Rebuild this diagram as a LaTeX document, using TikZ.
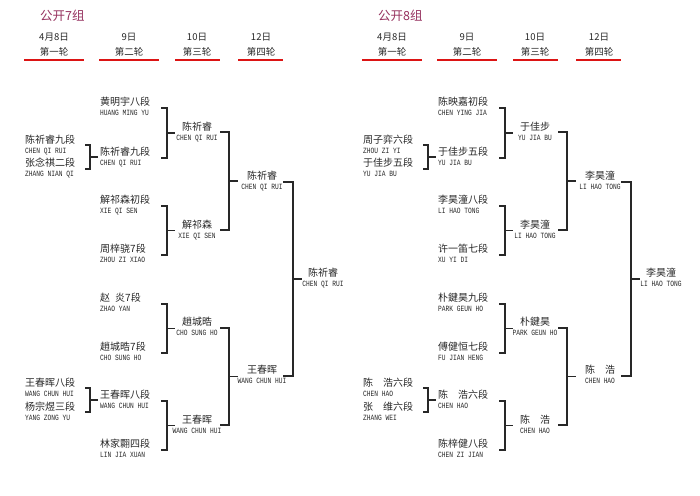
\documentclass[tikz,border=0pt]{standalone}
\usepackage{fontspec}
\newfontfamily\cjk{Noto Sans CJK SC}
\newfontfamily\pyf[FakeStretch=0.78]{Liberation Mono}
\definecolor{titlec}{RGB}{150,50,95}
\definecolor{ink}{RGB}{40,40,40}
\definecolor{redline}{RGB}{220,20,20}
\newcommand\entL[5]{\node[cn,anchor=west] (#1) at (#2,#3) {#4};\node[py,anchor=west] (#1p) at (#2,#3+11.5) {#5};}
\newcommand\entC[5]{\node[cn] (#1) at (#2,#3) {#4};\node[py] (#1p) at (#2,#3+11.5) {#5};}
\newcommand\brk[6]{\coordinate (#1t) at (#2,#5); \coordinate (#1b) at (#2,#6); \coordinate (#1m) at (#4,{(#5+#6)/2}); \draw[br] (#1t) -| (#3,#6) -- (#1b); \draw[br] (#3,{(#5+#6)/2}) -- (#1m);}
\newcommand\hdr[6]{\node[hd] (#1d) at (#2,37) {#3}; \node[hd] (#1r) at (#2,52) {#4}; \coordinate (#1u) at (#5,60); \coordinate (#1v) at (#6,60); \draw[ul] (#1u) -- (#1v);}
\begin{document}
\begin{tikzpicture}[x=1pt,y=-1pt,
  cn/.style={font=\cjk\fontsize{10}{12}\selectfont, text=ink, inner sep=0pt, text height=8.8pt, text depth=1.2pt},
  py/.style={font=\pyf\fontsize{8}{9}\selectfont, text=ink, inner sep=0pt, text height=4.6pt, text depth=0pt},
  hd/.style={font=\cjk\fontsize{9.5}{11}\selectfont, text=ink, inner sep=0pt},
  ttl/.style={font=\cjk\fontsize{12.5}{14}\selectfont, text=titlec, inner sep=0pt, anchor=west},
  br/.style={draw=ink, line width=1.2pt},
  ul/.style={draw=redline, line width=1.8pt}]
\useasboundingbox (0,0) rectangle (700,495);
\fill[white] (0,0) rectangle (700,495);
% ---------------- left group ----------------
\node[ttl] (Lttl) at (40,16) {公开7组};
\hdr{Lh1}{54}{4月8日}{第一轮}{24}{84}
\hdr{Lh2}{129}{9日}{第二轮}{99}{159}
\hdr{Lh3}{197}{10日}{第三轮}{175}{220}
\hdr{Lh4}{261}{12日}{第四轮}{238}{283}
\entL{La1}{25}{140}{陈祈睿九段}{CHEN QI RUI}
\entL{La2}{25}{163}{张念祺二段}{ZHANG NIAN QI}
\entL{La3}{25}{383}{王春晖八段}{WANG CHUN HUI}
\entL{La4}{25}{407}{杨宗煜三段}{YANG ZONG YU}
\entL{Lb1}{100}{102}{黄明宇八段}{HUANG MING YU}
\entL{Lb2}{100}{152}{陈祈睿九段}{CHEN QI RUI}
\entL{Lb3}{100}{200}{解祁森初段}{XIE QI SEN}
\entL{Lb4}{100}{249}{周梓骁7段}{ZHOU ZI XIAO}
\entL{Lb5}{100}{298}{赵\hspace{0.5em}炎7段}{ZHAO YAN}
\entL{Lb6}{100}{347}{趙城晧7段}{CHO SUNG HO}
\entL{Lb7}{100}{395}{王春晖八段}{WANG CHUN HUI}
\entL{Lb8}{100}{444}{林家翾四段}{LIN JIA XUAN}
\entC{Lc1}{197}{127}{陈祈睿}{CHEN QI RUI}
\entC{Lc2}{197}{225}{解祁森}{XIE QI SEN}
\entC{Lc3}{197}{322}{趙城晧}{CHO SUNG HO}
\entC{Lc4}{197}{420}{王春晖}{WANG CHUN HUI}
\entC{Ld1}{262}{176}{陈祈睿}{CHEN QI RUI}
\entC{Ld2}{262}{370}{王春晖}{WANG CHUN HUI}
\entC{Le}{323}{273}{陈祈睿}{CHEN QI RUI}
\brk{LA1}{85}{90}{98}{145}{169}
\brk{LA2}{85}{90}{98}{388}{412}
\brk{LB1}{161}{167}{175}{108}{158}
\brk{LB2}{161}{167}{175}{206}{255}
\brk{LB3}{161}{167}{175}{304}{353}
\brk{LB4}{161}{167}{175}{401}{450}
\brk{LC1}{220}{229}{238}{132}{230}
\brk{LC2}{220}{229}{238}{328}{425}
\brk{LD1}{283}{293}{302}{182}{376}
% ---------------- right group ----------------
\begin{scope}[shift={(338,0)}]
\node[ttl] (Rttl) at (40,16) {公开8组};
\hdr{Rh1}{54}{4月8日}{第一轮}{24}{84}
\hdr{Rh2}{129}{9日}{第二轮}{99}{159}
\hdr{Rh3}{197}{10日}{第三轮}{175}{220}
\hdr{Rh4}{261}{12日}{第四轮}{238}{283}
\entL{Ra1}{25}{140}{周子弈六段}{ZHOU ZI YI}
\entL{Ra2}{25}{163}{于佳步五段}{YU JIA BU}
\entL{Ra3}{25}{383}{陈\quad 浩六段}{CHEN HAO}
\entL{Ra4}{25}{407}{张\quad 维六段}{ZHANG WEI}
\entL{Rb1}{100}{102}{陈映嘉初段}{CHEN YING JIA}
\entL{Rb2}{100}{152}{于佳步五段}{YU JIA BU}
\entL{Rb3}{100}{200}{李昊潼八段}{LI HAO TONG}
\entL{Rb4}{100}{249}{许一笛七段}{XU YI DI}
\entL{Rb5}{100}{298}{朴鍵昊九段}{PARK GEUN HO}
\entL{Rb6}{100}{347}{傅健恒七段}{FU JIAN HENG}
\entL{Rb7}{100}{395}{陈\quad 浩六段}{CHEN HAO}
\entL{Rb8}{100}{444}{陈梓健八段}{CHEN ZI JIAN}
\entC{Rc1}{197}{127}{于佳步}{YU JIA BU}
\entC{Rc2}{197}{225}{李昊潼}{LI HAO TONG}
\entC{Rc3}{197}{322}{朴鍵昊}{PARK GEUN HO}
\entC{Rc4}{197}{420}{陈\quad 浩}{CHEN HAO}
\entC{Rd1}{262}{176}{李昊潼}{LI HAO TONG}
\entC{Rd2}{262}{370}{陈\quad 浩}{CHEN HAO}
\entC{Re}{323}{273}{李昊潼}{LI HAO TONG}
\brk{RA1}{85}{90}{98}{145}{169}
\brk{RA2}{85}{90}{98}{388}{412}
\brk{RB1}{161}{167}{175}{108}{158}
\brk{RB2}{161}{167}{175}{206}{255}
\brk{RB3}{161}{167}{175}{304}{353}
\brk{RB4}{161}{167}{175}{401}{450}
\brk{RC1}{220}{229}{238}{132}{230}
\brk{RC2}{220}{229}{238}{328}{425}
\brk{RD1}{283}{293}{302}{182}{376}
\end{scope}
\end{tikzpicture}
\end{document}
